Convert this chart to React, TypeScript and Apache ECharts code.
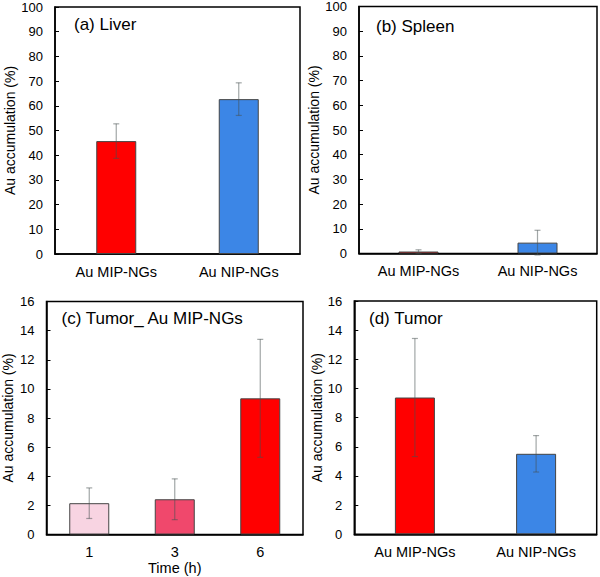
import React, { useEffect, useRef } from "react";
import * as echarts from "echarts";

const organCats = ["Au MIP-NGs", "Au NIP-NGs"];
const timeCats = ["1", "3", "6"];

const liverVals = [45.7, 62.7];
const liverErr = [7.0, 6.6];
const spleenVals = [0.8, 4.4];
const spleenErr = [0.7, 5.0];
const tumorTimeVals = [2.15, 2.42, 9.35];
const tumorTimeErr = [1.05, 1.4, 4.05];
const tumorVals = [9.38, 5.52];
const tumorErr = [4.05, 1.25];

const organColors = ["#ff0000", "#3c86e6"];
const timeColors = ["#f8d4e2", "#f0486c", "#ff0000"];

const FONT = "'Liberation Sans', Arial, sans-serif";

export default function App() {
  const ref = useRef<HTMLDivElement>(null);

  useEffect(() => {
    if (!ref.current) return;
    const chart = echarts.init(ref.current, null, { renderer: "svg" });

    const grids = [
      { left: 55, top: 7, width: 245, height: 247 },
      { left: 359, top: 5.5, width: 238, height: 248 },
      { left: 46, top: 301.5, width: 257, height: 233 },
      { left: 354.3, top: 301, width: 242.4, height: 233.3 },
    ].map((g) => ({ ...g, show: true, borderColor: "#000", borderWidth: 1.5, backgroundColor: "transparent" }));

    const cats = [organCats, organCats, timeCats, organCats];
    const vals = [liverVals, spleenVals, tumorTimeVals, tumorVals];
    const errs = [liverErr, spleenErr, tumorTimeErr, tumorErr];
    const colors = [organColors, organColors, timeColors, organColors];
    const yMax = [100, 100, 16, 16];
    const yInt = [10, 10, 2, 2];
    const nameGaps = [34, 31, 31.5, 30];

    const xAxis = cats.map((c, i) => ({
      type: "category",
      gridIndex: i,
      data: c,
      axisLine: { show: true, lineStyle: { color: "#000", width: 1.5 } },
      axisTick: { show: false },
      axisLabel: { color: "#000", fontSize: 14.5, fontFamily: FONT, margin: 10 },
      name: i === 2 ? "Time (h)" : "",
      nameLocation: "middle",
      nameGap: 26,
      nameTextStyle: { color: "#000", fontSize: 14.5, fontFamily: FONT },
    }));

    const yAxis = yMax.map((m, i) => ({
      type: "value",
      gridIndex: i,
      min: 0,
      max: m,
      interval: yInt[i],
      axisLine: { show: true, lineStyle: { color: "#000", width: 1.5 } },
      axisTick: { show: true, inside: true, length: 4, lineStyle: { color: "#000" } },
      splitLine: { show: false },
      axisLabel: { color: "#000", fontSize: 13, fontFamily: FONT, margin: 12 },
      name: "Au accumulation (%)",
      nameLocation: "middle",
      nameRotate: 90,
      nameGap: nameGaps[i],
      nameTextStyle: { color: "#000", fontSize: 14, fontFamily: FONT },
    }));

    const series: any[] = [];
    vals.forEach((v, i) => {
      series.push({
        type: "bar",
        xAxisIndex: i,
        yAxisIndex: i,
        barWidth: 40,
        data: v.map((val, j) => ({
          value: val,
          itemStyle: { color: colors[i][j], borderColor: "#444", borderWidth: 1 },
        })),
      });
      series.push({
        type: "custom",
        xAxisIndex: i,
        yAxisIndex: i,
        z: 5,
        encode: { x: 0, y: [1, 2] },
        data: v.map((val, j) => [j, val - errs[i][j], val + errs[i][j]]),
        renderItem: (params: any, api: any) => {
          const x = api.value(0);
          const lo = api.coord([x, api.value(1)]);
          const hi = api.coord([x, api.value(2)]);
          const w = 3;
          const style = { stroke: "rgba(70,80,80,0.5)", lineWidth: 1.2 };
          return {
            type: "group",
            children: [
              { type: "line", shape: { x1: lo[0], y1: lo[1], x2: hi[0], y2: hi[1] }, style },
              { type: "line", shape: { x1: hi[0] - w, y1: hi[1], x2: hi[0] + w, y2: hi[1] }, style },
              { type: "line", shape: { x1: lo[0] - w, y1: lo[1], x2: lo[0] + w, y2: lo[1] }, style },
            ],
          };
        },
      });
    });

    const titleStyle = { color: "#000", fontSize: 17, fontWeight: "normal", fontFamily: FONT };
    const title = [
      { text: "(a) Liver", left: 74, top: 16 },
      { text: "(b) Spleen", left: 376, top: 18 },
      { text: "(c) Tumor_ Au MIP-NGs", left: 61.5, top: 310 },
      { text: "(d) Tumor", left: 369, top: 310 },
    ].map((t) => ({ ...t, padding: 0, textStyle: titleStyle }));

    chart.setOption({
      animation: false,
      backgroundColor: "#fff",
      title,
      grid: grids,
      xAxis,
      yAxis,
      series,
    });

    return () => chart.dispose();
  }, []);

  return <div ref={ref} style={{ position: "absolute", left: 0, top: 0, width: 600, height: 577 }} />;
}
